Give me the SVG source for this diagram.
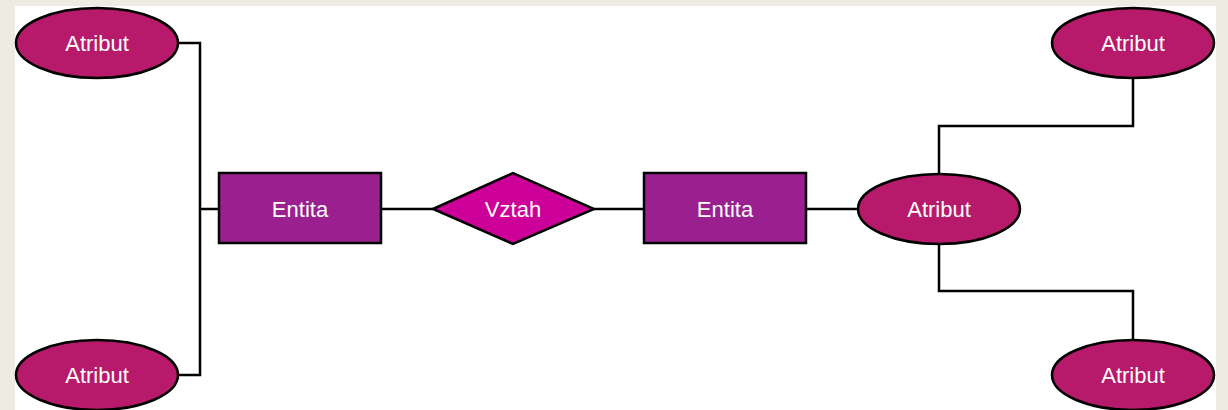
<svg xmlns="http://www.w3.org/2000/svg" width="1228" height="410" viewBox="0 0 1228 410">
<style>
.attr{fill:#B71A6B;stroke:#000;stroke-width:2.5}
.ent{fill:#9A208F;stroke:#000;stroke-width:2.5}
.rel{fill:#CC0099;stroke:#000;stroke-width:2.5}
.lbl{font-family:"Liberation Sans",Arial,sans-serif;font-size:22px;fill:#fff;text-anchor:middle;dominant-baseline:central}
.con{fill:none;stroke:#000;stroke-width:2.5}
</style>
<rect x="0" y="0" width="1228" height="410" fill="#EEEBE3"/>
<rect x="15" y="6" width="1201" height="404" fill="#fff"/>
<g id="connectors">
<polyline class="con" points="179,43 200,43 200,375 179,375"/>
<line class="con" x1="200" y1="209" x2="219" y2="209"/>
<line class="con" x1="381" y1="209" x2="433" y2="209"/>
<line class="con" x1="594" y1="209" x2="644" y2="209"/>
<line class="con" x1="806" y1="209" x2="858" y2="209"/>
<polyline class="con" points="939,174 939,126 1133,126 1133,78"/>
<polyline class="con" points="939,244 939,291 1133,291 1133,340"/>
</g>
<g id="attr-tl"><ellipse class="attr" cx="97" cy="43" rx="81" ry="35"/><text class="lbl" x="97" y="43">Atribut</text></g>
<g id="attr-bl"><ellipse class="attr" cx="97" cy="375" rx="81" ry="35"/><text class="lbl" x="97" y="375">Atribut</text></g>
<g id="entita1"><rect class="ent" x="219" y="173" width="162" height="70"/><text class="lbl" x="300" y="209">Entita</text></g>
<g id="vztah"><polygon class="rel" points="433,209 513,173 594,209 513,244"/><text class="lbl" x="513" y="209">Vztah</text></g>
<g id="entita2"><rect class="ent" x="644" y="173" width="162" height="70"/><text class="lbl" x="725" y="209">Entita</text></g>
<g id="attr-mid"><ellipse class="attr" cx="939" cy="209" rx="81" ry="35"/><text class="lbl" x="939" y="209">Atribut</text></g>
<g id="attr-tr"><ellipse class="attr" cx="1133" cy="43" rx="81" ry="35"/><text class="lbl" x="1133" y="43">Atribut</text></g>
<g id="attr-br"><ellipse class="attr" cx="1133" cy="375" rx="81" ry="35"/><text class="lbl" x="1133" y="375">Atribut</text></g>
</svg>
